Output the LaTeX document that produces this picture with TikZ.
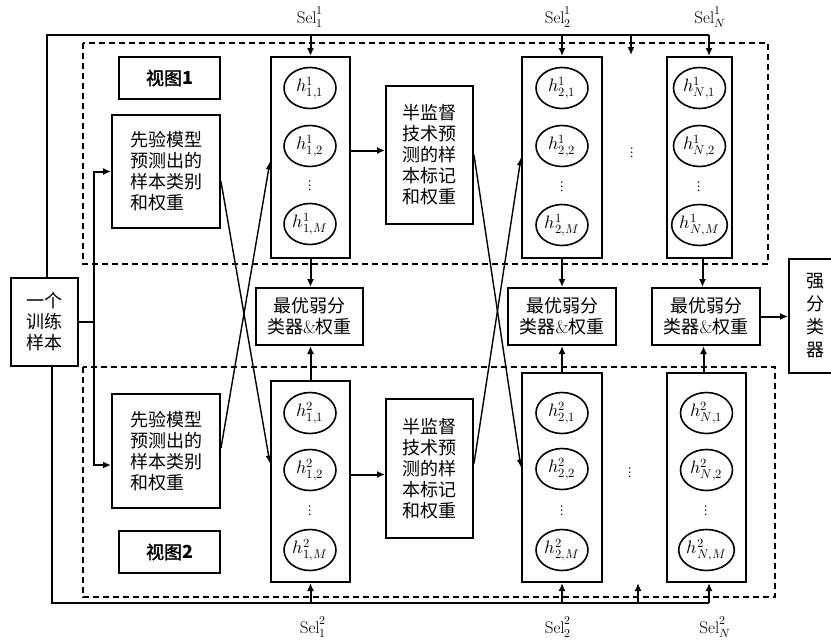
\documentclass[tikz,border=0pt]{standalone}
\usepackage{fontspec}
\usepackage{unicode-math}
\setmathfont{Latin Modern Math}
\newfontfamily\cjk{Noto Sans CJK SC}
\newfontfamily\cjkb{Noto Sans CJK SC}[FakeBold=2]
\usetikzlibrary{arrows.meta,shapes.geometric}

\tikzset{
  box/.style={draw,line width=2pt,inner sep=0pt,align=center,font=\fontsize{18}{21}\selectfont\cjk},
  colbox/.style={draw,line width=2pt,inner sep=0pt},
  hnode/.style={draw,ellipse,line width=1.6pt,minimum width=52pt,minimum height=41pt,inner sep=0pt,font=\fontsize{18}{21}\selectfont},
  dotsnode/.style={inner sep=0pt,font=\fontsize{15}{17}\selectfont},
  sel/.style={inner sep=1pt,font=\fontsize{17}{20}\selectfont},
  link/.style={line width=2pt},
  arr/.style={line width=2pt,-{Latex[length=8pt,width=7pt]}},
  cross/.style={line width=1.4pt,-{Latex[length=8pt,width=6pt]}},
  frame/.style={line width=1.6pt,dash pattern=on 6pt off 4pt}
}

\begin{document}
\begin{tikzpicture}[x=1pt,y=-1pt,line width=1pt]
\path[use as bounding box] (0,0) rectangle (831,641);
% view frames
\draw[frame] (83,43) rectangle (768,264);
\draw[frame] (83,367) rectangle (775,597);
% left part
\node[box,minimum width=67pt,minimum height=88pt] (train) at (44.5,322) {一个\\训练\\样本};
\node[box,minimum width=101pt,minimum height=42pt] (view1) at (169.5,78) {{\cjkb 视图}\textbf{1}};
\node[box,minimum width=101pt,minimum height=42pt] (view2) at (169.5,552) {{\cjkb 视图}\textbf{2}};
\node[box,align=left,minimum width=108pt,minimum height=113pt] (pri1) at (166,171.5) {先验模型\\预测出的\\样本类别\\和权重};
\node[box,align=left,minimum width=108pt,minimum height=114pt] (pri2) at (166,451) {先验模型\\预测出的\\样本类别\\和权重};
% classifier columns, view 1
\node[colbox,minimum width=79pt,minimum height=201pt] (col11) at (310.5,157.5) {};
\node[hnode] (ha11) at (310,88) {$h^1_{1,1}$};
\node[hnode] (ha12) at (310,146) {$h^1_{1,2}$};
\node[dotsnode] (ha1d) at (310,186) {$\vdots$};
\node[hnode] (ha1M) at (310,224) {$h^1_{1,M}$};
\node[colbox,minimum width=80pt,minimum height=201pt] (col21) at (562,157.5) {};
\node[hnode] (ha21) at (562,88) {$h^1_{2,1}$};
\node[hnode] (ha22) at (562,146) {$h^1_{2,2}$};
\node[dotsnode] (ha2d) at (562,187) {$\vdots$};
\node[hnode] (ha2M) at (562,225) {$h^1_{2,M}$};
\node[colbox,minimum width=65pt,minimum height=201pt] (colN1) at (699.5,157.5) {};
\node[hnode] (haN1) at (699.5,88) {$h^1_{N,1}$};
\node[hnode] (haN2) at (699.5,146) {$h^1_{N,2}$};
\node[dotsnode] (haNd) at (699.5,187) {$\vdots$};
\node[hnode] (haNM) at (699.5,225) {$h^1_{N,M}$};
\node[dotsnode] (mdots1) at (632,153) {$\vdots$};
% classifier columns, view 2
\node[colbox,minimum width=79pt,minimum height=201pt] (col12) at (310.5,481.5) {};
\node[hnode] (hb11) at (310,413) {$h^2_{1,1}$};
\node[hnode] (hb12) at (310,470) {$h^2_{1,2}$};
\node[dotsnode] (hb1d) at (310,511) {$\vdots$};
\node[hnode] (hb1M) at (310,550) {$h^2_{1,M}$};
\node[colbox,minimum width=80pt,minimum height=209pt] (col22) at (562,477.5) {};
\node[hnode] (hb21) at (562,413) {$h^2_{2,1}$};
\node[hnode] (hb22) at (562,469) {$h^2_{2,2}$};
\node[dotsnode] (hb2d) at (562,511) {$\vdots$};
\node[hnode] (hb2M) at (562,550) {$h^2_{2,M}$};
\node[colbox,minimum width=79pt,minimum height=209pt] (colN2) at (706.5,477.5) {};
\node[hnode] (hbN1) at (706.5,413) {$h^2_{N,1}$};
\node[hnode] (hbN2) at (706.5,470) {$h^2_{N,2}$};
\node[dotsnode] (hbNd) at (706.5,511) {$\vdots$};
\node[hnode] (hbNM) at (706.5,550) {$h^2_{N,M}$};
\node[dotsnode] (mdots2) at (630,473) {$\vdots$};
% semi-supervised boxes
\node[box,minimum width=87pt,minimum height=138pt] (semi1) at (429.5,155) {半监督\\技术预\\测的样\\本标记\\和权重};
\node[box,minimum width=87pt,minimum height=139pt] (semi2) at (429.5,468.5) {半监督\\技术预\\测的样\\本标记\\和权重};
% best weak classifiers
\node[box,minimum width=107pt,minimum height=57pt] (best1) at (309.5,316.5) {最优弱分\\类器{\rmfamily\&}权重};
\node[box,minimum width=108pt,minimum height=57pt] (best2) at (562,316.5) {最优弱分\\类器{\rmfamily\&}权重};
\node[box,minimum width=108pt,minimum height=57pt] (bestN) at (706,316.5) {最优弱分\\类器{\rmfamily\&}权重};
\node[box,minimum width=52pt,minimum height=114pt,font=\fontsize{18}{23}\selectfont\cjk] (strong) at (815,316) {强\\分\\类\\器};
% selection labels
\node[sel] (s11) at (310,17) {$\mathrm{Sel}_1^1$};
\node[sel] (s21) at (558,17) {$\mathrm{Sel}_2^1$};
\node[sel] (sN1) at (710,17) {$\mathrm{Sel}_N^1$};
\node[sel] (s12) at (313,627) {$\mathrm{Sel}_1^2$};
\node[sel] (s22) at (558,627) {$\mathrm{Sel}_2^2$};
\node[sel] (sN2) at (715,627) {$\mathrm{Sel}_N^2$};
% bus lines
\coordinate (tl) at (47,35);
\coordinate (tr) at (709,35);
\coordinate (tmid) at (631,55);
\coordinate (bl) at (52,603);
\coordinate (br) at (709,603);
\coordinate (bmid) at (638,583);
\coordinate (fork) at (94,322);
\draw[link] (train.north -| tl) -- (tl) -- (tr);
\draw[arr] (col11.north |- tr) -- (col11.north);
\draw[arr] (col21.north |- tr) -- (col21.north);
\draw[arr] (tmid |- tr) -- (tmid);
\draw[arr] (tr) -- (tr |- colN1.north);
\draw[link] (train.south -| bl) -- (bl) -- (br);
\draw[arr] (col12.south |- br) -- (col12.south);
\draw[arr] (col22.south |- br) -- (col22.south);
\draw[arr] (bmid |- br) -- (bmid);
\draw[arr] (br) -- (br |- colN2.south);
% sample to prior models
\draw[link] (train.east) -- (fork);
\draw[arr] (fork) |- (pri1.west);
\draw[arr] (fork) |- ([yshift=-14pt]pri2.west);
% columns to best classifiers
\draw[arr] (col11.south) -- (col11.south |- best1.north);
\draw[arr] (col12.north) -- (col12.north |- best1.south);
\draw[arr] (col21.south) -- (col21.south |- best2.north);
\draw[arr] (col22.north) -- (col22.north |- best2.south);
\draw[arr] ([xshift=3pt]colN1.south) -- ([xshift=3pt]colN1.south |- bestN.north);
\draw[arr] ([xshift=-3pt]colN2.north) -- ([xshift=-3pt]colN2.north |- bestN.south);
\draw[arr] (bestN.east) -- (bestN.east -| strong.west);
% columns to semi-supervised boxes
\draw[arr] ([yshift=7pt]col11.east) -- ([yshift=7pt]col11.east -| semi1.west);
\draw[arr] ([yshift=7pt]col12.east) -- ([yshift=7pt]col12.east -| semi2.west);
% cross links between views
\draw[cross] ([yshift=-10pt]pri1.east) -- ([yshift=18pt]col12.west);
\draw[cross] ([yshift=3pt]pri2.east) -- ([yshift=-4pt]col11.west);
\draw[cross] (semi1.east) -- ([yshift=10pt]col22.west);
\draw[cross] ([yshift=5pt]semi2.east) -- (col21.west);
\end{tikzpicture}
\end{document}
